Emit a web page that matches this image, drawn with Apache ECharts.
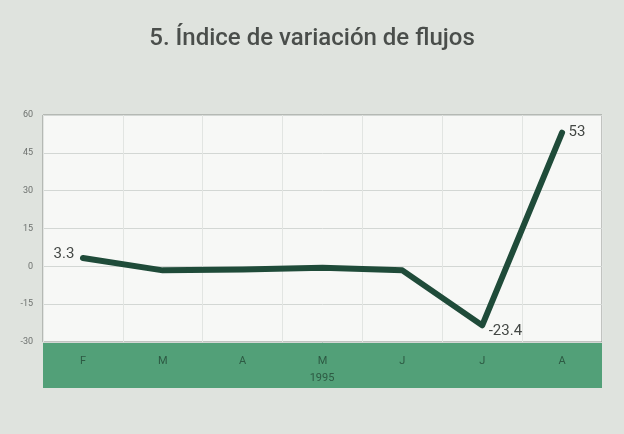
<!DOCTYPE html>
<html>
<head>
<meta charset="utf-8">
<script src="https://cdn.jsdelivr.net/npm/echarts@6/dist/echarts.min.js"></script>
<style>
  html, body { margin: 0; padding: 0; background: #dfe3de; }
  #chart { width: 624px; height: 434px; }
</style>
</head>
<body>
<div id="chart"></div>
<script>
const months = ['F', 'M', 'A', 'M', 'J', 'J', 'A']
const flujos = [3.3, -1.6, -1.3, -0.6, -1.6, -23.4, 53]
const yTicks = [-30, -15, 0, 15, 30, 45, 60]
const yearLabel = '1995'

const chart = echarts.init(document.getElementById('chart'))

const labelFor = (i) => {
  if (i === 0) return { show: true, position: 'left', distance: 8, offset: [0, -4] }
  if (i === 5) return { show: true, position: 'right', distance: 6, offset: [0, 6] }
  if (i === 6) return { show: true, position: 'right', distance: 6 }
  return { show: false }
}

const option = {
  backgroundColor: '#dfe3de',
  animation: false,
  title: {
    text: '5. Índice de variación de flujos',
    left: 'center',
    top: 22,
    textStyle: {
      fontFamily: 'Roboto, sans-serif',
      fontSize: 24,
      fontWeight: 500,
      color: '#4a4e4b'
    }
  },
  graphic: [
    {
      type: 'rect',
      shape: { x: 43, y: 342, width: 559, height: 46 },
      style: { fill: '#52a078' },
      z: 0
    },
    {
      type: 'text',
      x: 322,
      y: 378,
      style: {
        text: yearLabel,
        fill: '#2d5a43',
        font: '11px Roboto, sans-serif',
        textAlign: 'center',
        textVerticalAlign: 'middle'
      },
      z: 10
    }
  ],
  grid: {
    left: 43,
    right: 22,
    top: 115,
    bottom: 92,
    show: true,
    backgroundColor: '#f7f8f6',
    borderColor: '#8a8e8b',
    borderWidth: 1
  },
  xAxis: {
    type: 'category',
    data: months,
    boundaryGap: true,
    axisLine: { show: false },
    axisTick: { show: false },
    axisLabel: {
      margin: 14,
      color: '#2d5a43',
      fontSize: 11,
      fontFamily: 'Roboto, sans-serif'
    },
    splitLine: {
      show: true,
      lineStyle: { color: '#e2e5e2', width: 1 }
    }
  },
  yAxis: {
    type: 'value',
    min: yTicks[0],
    max: yTicks[yTicks.length - 1],
    interval: 15,
    axisLine: { show: false },
    axisTick: { show: false },
    axisLabel: {
      margin: 10,
      color: '#6d716e',
      fontSize: 9,
      fontFamily: 'Roboto, sans-serif'
    },
    splitLine: {
      lineStyle: { color: '#d3d7d4', width: 1 }
    }
  },
  series: [
    {
      type: 'line',
      data: flujos.map((v, i) => ({ value: v, label: labelFor(i) })),
      symbol: 'circle',
      symbolSize: 1,
      showSymbol: true,
      itemStyle: { color: '#1f4b39' },
      lineStyle: { color: '#1f4b39', width: 6, cap: 'round', join: 'round' },
      label: {
        color: '#444845',
        fontSize: 15,
        fontFamily: 'Roboto, sans-serif',
        formatter: (p) => String(p.value)
      },
      z: 5
    }
  ]
}

chart.setOption(option)
</script>
</body>
</html>
